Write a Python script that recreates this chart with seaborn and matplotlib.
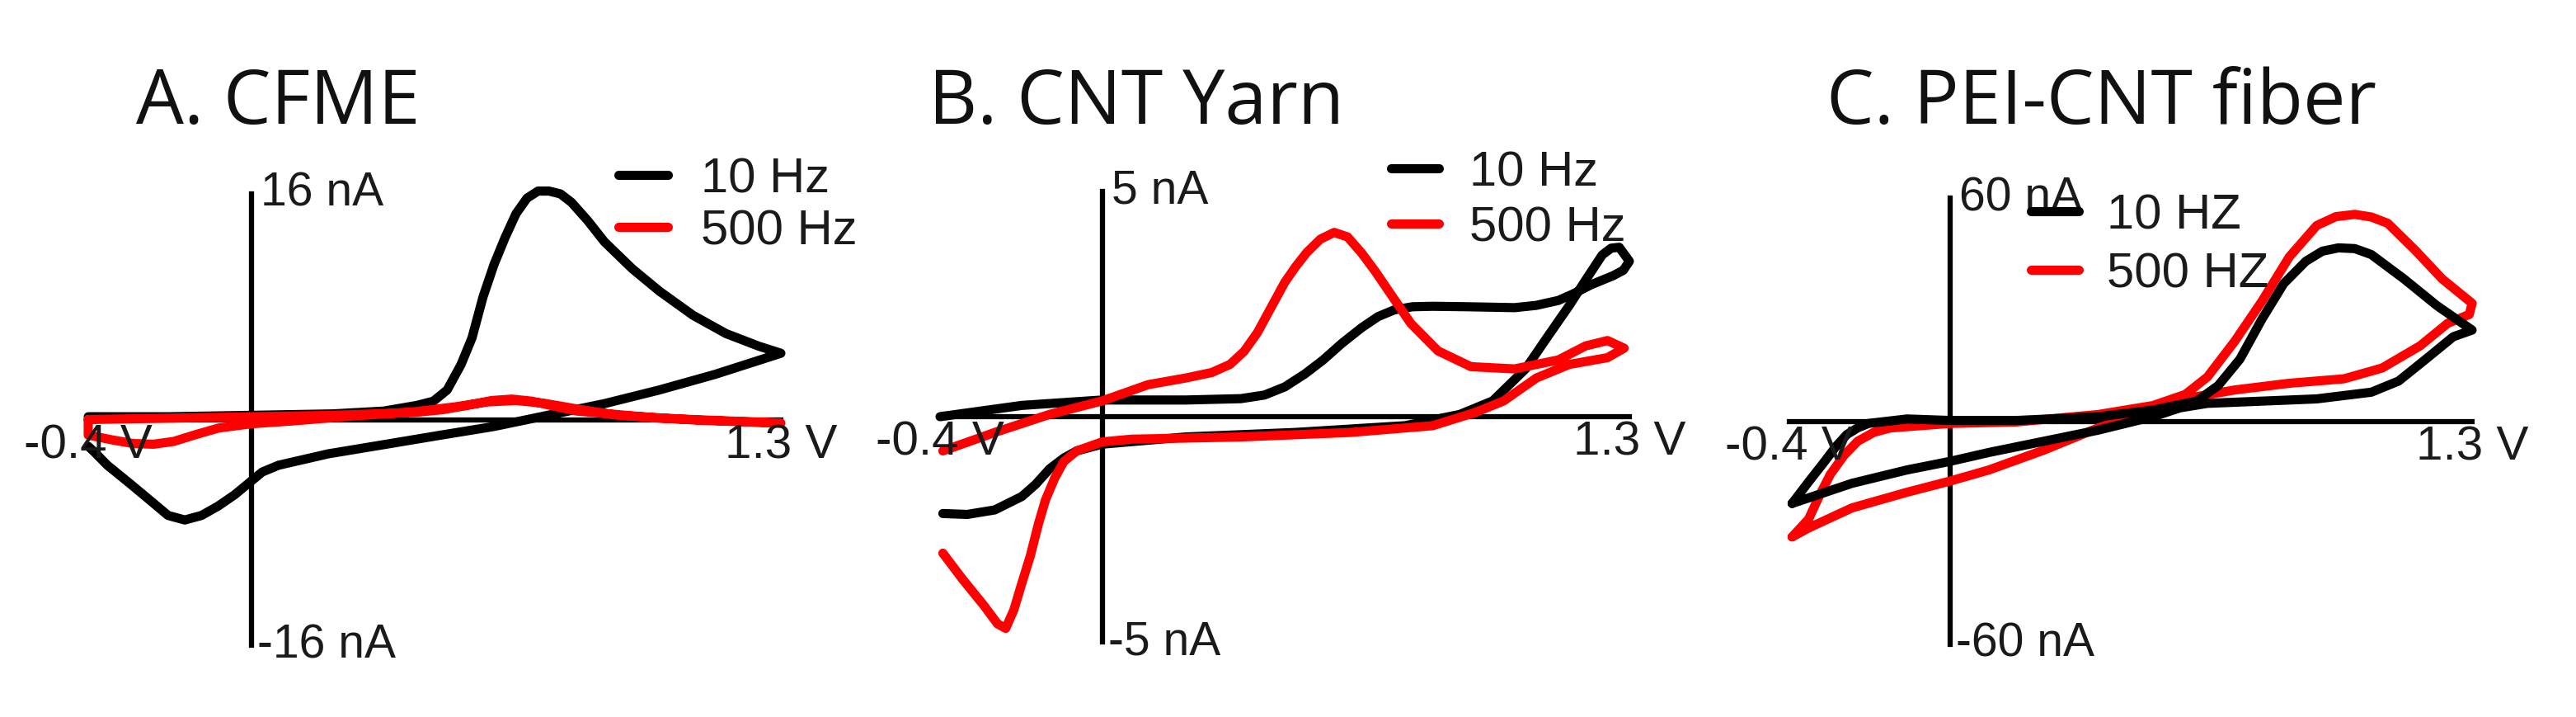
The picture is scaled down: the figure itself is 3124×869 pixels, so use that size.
import numpy as np
import pandas as pd
import matplotlib
matplotlib.use('Agg')
import matplotlib.pyplot as plt
import seaborn as sns
from matplotlib.lines import Line2D

# ---- data (potential in V, current in nA) ----
# A. CFME
a_v_10 = [-0.40, -0.20, 0.00, 0.20, 0.325, 0.406, 0.447, 0.481, 0.515, 0.542, 0.569, 0.596, 0.623,
          0.650, 0.677, 0.704, 0.731, 0.759, 0.786, 0.826, 0.867, 0.935, 1.002, 1.084, 1.165, 1.246,
          1.30, 1.138, 1.002, 0.867, 0.731, 0.596, 0.46, 0.325, 0.189, 0.067, 0.027, -0.007,
          -0.041, -0.082, -0.122, -0.163, -0.204, -0.244, -0.298, -0.353, -0.386, -0.40]
a_i_10 = [0.2, 0.2, 0.3, 0.4, 0.6, 1.0, 1.3, 2.1, 3.9, 5.8, 8.7, 11.0, 12.9,
          14.6, 15.7, 16.2, 16.2, 16.0, 15.4, 14.1, 12.6, 10.7, 9.1, 7.4, 6.1, 5.2,
          4.7, 3.2, 2.1, 1.13, 0.32, -0.49, -1.13, -1.78, -2.43, -3.24, -3.72, -4.53,
          -5.34, -6.15, -6.8, -7.12, -6.8, -5.83, -4.53, -3.24, -2.27, -1.9]
a_v_500 = [-0.40, -0.20, 0.00, 0.20, 0.40, 0.47, 0.53, 0.59, 0.64, 0.69, 0.75, 0.80, 1.00, 1.30,
           1.10, 0.90, 0.80, 0.72, 0.65, 0.58, 0.50, 0.40, 0.25, 0.10, 0.00, -0.08, -0.14,
           -0.19, -0.24, -0.29, -0.34, -0.40, -0.40]
a_i_500 = [0.0, 0.1, 0.2, 0.3, 0.5, 0.7, 1.0, 1.35, 1.45, 1.3, 0.9, 0.6, 0.1, -0.25,
           -0.05, 0.3, 0.75, 1.15, 1.35, 1.25, 0.9, 0.55, 0.25, -0.1, -0.3, -0.6, -1.1,
           -1.55, -1.75, -1.7, -1.45, -1.1, 0.0]

# B. CNT Yarn
b_v_10 = [-0.393, -0.333, -0.265, -0.198, -0.164, -0.13, -0.095, -0.063, 0.0, 0.207, 0.477, 0.747,
          0.882, 0.963, 1.044, 1.098, 1.152, 1.192, 1.233, 1.255, 1.275, 1.30, 1.285, 1.26, 1.206,
          1.160, 1.125, 1.070, 1.017, 0.900, 0.815, 0.765, 0.72, 0.680, 0.639, 0.590, 0.545,
          0.50, 0.45, 0.40, 0.342, 0.207, 0.0, -0.198, -0.40]
b_i_10 = [-2.15, -2.17, -2.07, -1.77, -1.50, -1.16, -0.92, -0.76, -0.61, -0.45, -0.35, -0.2,
          0.05, 0.35, 1.06, 1.77, 2.47, 3.03, 3.59, 3.74, 3.76, 3.45, 3.25, 3.13, 2.93,
          2.72, 2.58, 2.47, 2.42, 2.44, 2.45, 2.44, 2.37, 2.22, 1.97, 1.62, 1.26,
          0.95, 0.66, 0.48, 0.40, 0.37, 0.37, 0.25, 0.0]
b_v_500 = [-0.393, -0.265, -0.13, 0.0, 0.113, 0.207, 0.270, 0.315, 0.350, 0.383, 0.415, 0.45,
           0.477, 0.504, 0.538, 0.572, 0.605, 0.639, 0.673, 0.707, 0.761, 0.828, 0.909, 1.017,
           1.125, 1.192, 1.246, 1.287, 1.246, 1.152, 1.071, 0.99, 0.922, 0.815, 0.612, 0.342,
           0.072, 0.0, -0.063, -0.095, -0.117, -0.140, -0.157, -0.177, -0.198, -0.218, -0.238,
           -0.258, -0.292, -0.346, -0.393]
b_i_500 = [-0.76, -0.35, 0.05, 0.35, 0.71, 0.86, 0.98, 1.16, 1.45, 1.87, 2.40, 2.98,
           3.33, 3.64, 3.94, 4.09, 3.99, 3.64, 3.23, 2.78, 2.07, 1.46, 1.11, 1.06,
           1.26, 1.57, 1.69, 1.52, 1.31, 1.16, 0.86, 0.35, 0.10, -0.2, -0.35, -0.45,
           -0.5, -0.56, -0.76, -1.0, -1.36, -1.85, -2.37, -3.08, -3.69, -4.29, -4.7,
           -4.6, -4.19, -3.59, -3.03]

# C. PEI-CNT fiber
c_v_10 = [-0.393, -0.352, -0.312, -0.284, -0.257, -0.230, -0.203, -0.107, 0.0, 0.165, 0.369, 0.505,
          0.614, 0.668, 0.722, 0.777, 0.831, 0.886, 0.927, 0.967, 1.008, 1.049, 1.131, 1.212,
          1.30, 1.253, 1.185, 1.117, 1.049, 0.913, 0.777, 0.641, 0.573, 0.505, 0.369, 0.233,
          0.097, 0.0, -0.107, -0.244, -0.393]
c_i_10 = [-22.1, -16.3, -10.8, -6.8, -3.6, -1.8, -0.6, 0.6, 0.2, 0.2, 1.2, 3.0,
          5.4, 9.6, 16.7, 27.5, 37.0, 43.0, 45.7, 46.6, 46.4, 44.8, 38.2, 31.1,
          24.5, 22.7, 16.7, 10.8, 7.8, 6.0, 5.4, 4.8, 3.6, 1.2, -2.4, -5.4,
          -8.4, -10.8, -13.1, -16.7, -22.1]
c_v_500 = [-0.393, -0.352, -0.325, -0.298, -0.264, -0.23, -0.190, -0.148, 0.0, 0.165, 0.369, 0.505,
           0.586, 0.641, 0.709, 0.777, 0.845, 0.913, 0.961, 1.008, 1.049, 1.09, 1.158, 1.226,
           1.30, 1.293, 1.239, 1.171, 1.076, 0.981, 0.845, 0.709, 0.614, 0.505, 0.369, 0.233,
           0.097, 0.0, -0.107, -0.244, -0.352, -0.393]
c_i_500 = [-31.1, -26.3, -20.0, -14.3, -9.2, -5.4, -3.0, -1.8, -0.6, -0.2, 1.8, 4.2,
           7.2, 11.9, 21.5, 32.3, 44.2, 52.6, 55.0, 55.6, 54.9, 53.2, 46.0, 38.2,
           31.7, 28.7, 26.3, 20.3, 14.3, 11.4, 10.2, 8.4, 6.6, 3.0, -1.8, -7.8,
           -13.1, -16.1, -19.1, -23.3, -28.7, -31.1]

titles = ['A. CFME', 'B. CNT Yarn', 'C. PEI-CNT fiber']
current_limits = [16, 5, 60]
legend_labels = [['10 Hz', '500 Hz'], ['10 Hz', '500 Hz'], ['10 HZ', '500 HZ']]

sns.set_style('white')
plt.rcParams['font.family'] = ['Liberation Sans', 'DejaVu Sans']

W, H = 3124, 869
fig = plt.figure(figsize=(W / 100, H / 100), dpi=100)


def px_axes(left, right, top, bottom):
    return fig.add_axes([left / W, 1 - bottom / H, (right - left) / W, (bottom - top) / H])


# layout in pixels: (x of -0.4 V, x of 1.3 V, y of +lim, y of -lim)
boxes = [(107, 947, 235, 782), (1140, 1976, 232, 778), (2170, 2998, 240, 781)]
title_x = [165, 1126, 2215]
# legend: (line x0, line x1, text x, y row1, y row2)
legend_pos = [(750, 810, 850, 212, 275), (1687, 1745, 1782, 204, 271), (2463, 2521, 2555, 256, 327)]

traces = [(a_v_10, a_i_10, a_v_500, a_i_500),
          (b_v_10, b_i_10, b_v_500, b_i_500),
          (c_v_10, c_i_10, c_v_500, c_i_500)]

LW = 8
for k in range(3):
    v10, i10, v500, i500 = traces[k]
    lim = current_limits[k]
    ax = px_axes(*boxes[k])
    order = [('black', v10, i10), ('red', v500, i500)]
    if k == 2:
        order = order[::-1]
    for col, v, i in order:
        sns.lineplot(x=v, y=i, sort=False, estimator=None, color=col, linewidth=LW, ax=ax)
    for ln in ax.lines:
        ln.set_clip_on(False)
        ln.set_solid_joinstyle('round')
        ln.set_solid_capstyle('round')

    ax.set_xlim(-0.4, 1.3)
    ax.set_ylim(-lim, lim)
    ax.set_facecolor('none')
    for s in ['top', 'right']:
        ax.spines[s].set_visible(False)
    for s in ['left', 'bottom']:
        ax.spines[s].set_position(('data', 0))
        ax.spines[s].set_linewidth(4.5)
        ax.spines[s].set_color('black')
        ax.spines[s].set_zorder(1)
    ax.set_xticks([])
    ax.set_yticks([-lim, lim])
    ax.set_yticklabels([])
    ax.tick_params(axis='y', direction='inout', length=19, width=4.5, color='black')
    ax.set_xlabel('')
    ax.set_ylabel('')

    ax.annotate(f'{lim} nA', xy=(0, lim), xytext=(8, 0), textcoords='offset points',
                ha='left', va='center', fontsize=41, color='#1a1a1a')
    ax.annotate(f'-{lim} nA', xy=(0, -lim), xytext=(5, 0), textcoords='offset points',
                ha='left', va='center', fontsize=41, color='#1a1a1a')
    ax.annotate('-0.4 V', xy=(-0.4, 0), xytext=(0, -23), textcoords='offset points',
                ha='center', va='center', fontsize=42, color='#1a1a1a')
    ax.annotate('1.3 V', xy=(1.3, 0), xytext=(0, -23), textcoords='offset points',
                ha='center', va='center', fontsize=42, color='#1a1a1a')

    fig.text(title_x[k] / W, 1 - 150 / H, titles[k], fontsize=66, family=['Open Sans', 'DejaVu Sans'],
             va='baseline', ha='left', color='#111111')

    x0, x1, tx, y1, y2 = legend_pos[k]
    for col, yy, lab in [('black', y1, legend_labels[k][0]), ('red', y2, legend_labels[k][1])]:
        fig.add_artist(Line2D([x0 / W, x1 / W], [1 - yy / H, 1 - yy / H], transform=fig.transFigure,
                              color=col, linewidth=8))
        fig.text(tx / W, 1 - yy / H, lab, fontsize=43, va='center_baseline', ha='left', color='#1a1a1a')

fig.savefig('out.png', dpi=100)
